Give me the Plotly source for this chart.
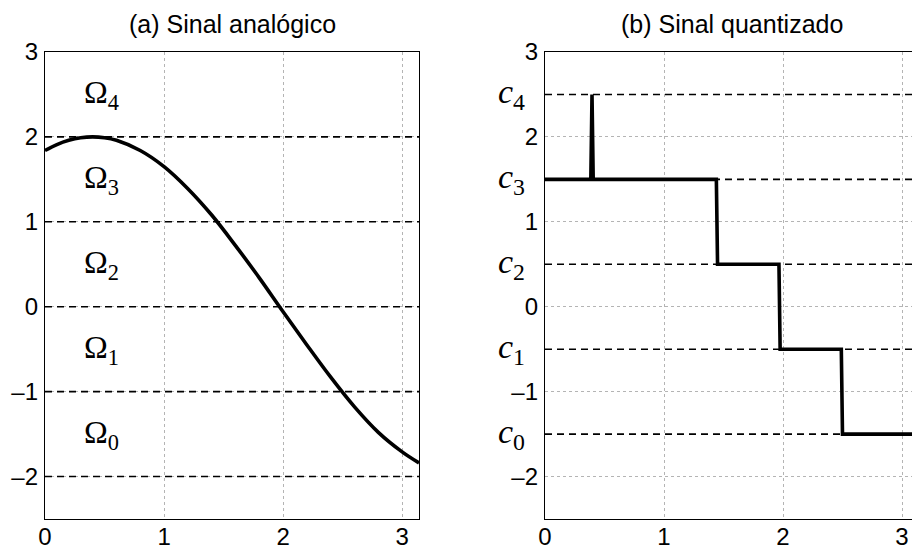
import plotly.graph_objects as go

# ---- data ----
analog_x = [0.0, 0.1, 0.2, 0.3, 0.4, 0.5, 0.6, 0.8, 1.0, 1.2, 1.4, 1.6, 1.8, 2.0,
            2.2, 2.4, 2.6, 2.8, 3.0, 3.1416]
analog_y = [1.84, 1.91, 1.96, 1.99, 2.00, 1.99, 1.96, 1.84, 1.65, 1.39, 1.08, 0.72,
            0.34, -0.06, -0.45, -0.83, -1.18, -1.48, -1.71, -1.84]

quant_x = [0.0, 0.385, 0.395, 0.405, 1.440, 1.450, 1.966, 1.976, 2.490, 2.500, 3.1416]
quant_y = [1.5, 1.5, 2.5, 1.5, 1.5, 0.5, 0.5, -0.5, -0.5, -1.5, -1.5]

region_bounds = [-2, -1, 0, 1, 2]
region_labels = ["Ω<sub>0</sub>", "Ω<sub>1</sub>", "Ω<sub>2</sub>", "Ω<sub>3</sub>", "Ω<sub>4</sub>"]
region_label_y = [-1.5, -0.5, 0.5, 1.5, 2.5]

levels = [-1.5, -0.5, 0.5, 1.5, 2.5]
level_labels = ["<i>c</i><sub>0</sub>", "<i>c</i><sub>1</sub>", "<i>c</i><sub>2</sub>",
                "<i>c</i><sub>3</sub>", "<i>c</i><sub>4</sub>"]

x_ticks = [0, 1, 2, 3]
y_ticks = [-2, -1, 0, 1, 2, 3]
titles = ["(a) Sinal analógico", "(b) Sinal quantizado"]

W, H = 912, 549
T, B = 52, 30
XMAX = 3.1416
XMAX2 = (912 - 545) / 119.0

fig = go.Figure()

dash_line = dict(color="black", width=1.6, dash="7px,5px")
for yb in region_bounds:
    fig.add_trace(go.Scatter(x=[0, XMAX], y=[yb, yb], mode="lines", line=dash_line,
                             xaxis="x", yaxis="y", showlegend=False, hoverinfo="skip"))
for yl in levels:
    fig.add_trace(go.Scatter(x=[0, XMAX], y=[yl, yl], mode="lines", line=dash_line,
                             xaxis="x2", yaxis="y2", showlegend=False, hoverinfo="skip"))

fig.add_trace(go.Scatter(x=analog_x, y=analog_y, mode="lines",
                         line=dict(color="black", width=3.6, shape="spline"),
                         xaxis="x", yaxis="y", showlegend=False))
fig.add_trace(go.Scatter(x=quant_x, y=quant_y, mode="lines",
                         line=dict(color="black", width=3.6),
                         xaxis="x2", yaxis="y2", showlegend=False))

SANS = "Liberation Sans, Arial, sans-serif"
SERIF = "Liberation Serif, DejaVu Serif, serif"
tickfont = dict(family=SANS, size=24, color="black")
common_x = dict(tickvals=x_ticks, ticktext=[str(v) for v in x_ticks], showgrid=True,
                gridcolor="#b4b4b4", griddash="dot", gridwidth=1, zeroline=False,
                showline=True, linecolor="black", linewidth=1.3, ticks="",
                tickfont=tickfont, ticklabelstandoff=-4, automargin=False)
common_y = dict(range=[-2.5, 3], tickvals=y_ticks,
                ticktext=[("–" + str(-v)) if v < 0 else str(v) for v in y_ticks],
                showgrid=True, gridcolor="#b4b4b4", griddash="dot", gridwidth=1,
                zeroline=False, showline=True, linecolor="black", linewidth=1.3,
                ticks="", tickfont=tickfont, ticklabelstandoff=1, automargin=False)

fig.update_layout(
    width=W, height=H,
    margin=dict(l=0, r=0, t=T, b=B, autoexpand=False),
    paper_bgcolor="white", plot_bgcolor="white",
    xaxis=dict(domain=[45 / W, 419 / W], range=[0, XMAX], mirror=True, anchor="y", **common_x),
    yaxis=dict(domain=[0, 1], anchor="x", mirror=True, **common_y),
    xaxis2=dict(domain=[545 / W, 1.0], range=[0, XMAX2], mirror=True, anchor="y2", **common_x),
    yaxis2=dict(domain=[0, 1], anchor="x2", mirror=False, **common_y),
)

title_y = 1 + (T - 24) / (H - T - B)
ann = [
    dict(text=titles[0], x=(45 + 419) / 2 / W, y=title_y),
    dict(text=titles[1], x=(545 + 919) / 2 / W, y=title_y),
]
for a in ann:
    a.update(xref="paper", yref="paper", showarrow=False, xanchor="center", yanchor="middle",
             font=dict(family=SANS, size=25, color="black"))

for lbl, yv in zip(region_labels, region_label_y):
    ann.append(dict(text=lbl, x=0.31, y=yv, xref="x", yref="y", showarrow=False,
                    xanchor="left", yanchor="middle",
                    font=dict(family=SERIF, size=32, color="black")))
for lbl, yv in zip(level_labels, levels):
    ann.append(dict(text=lbl, x=527 / W, y=yv, xref="paper", yref="y2", showarrow=False,
                    xanchor="right", yanchor="middle",
                    font=dict(family=SERIF, size=34, color="black")))

fig.update_layout(annotations=ann)

fig.write_html("out.html")
